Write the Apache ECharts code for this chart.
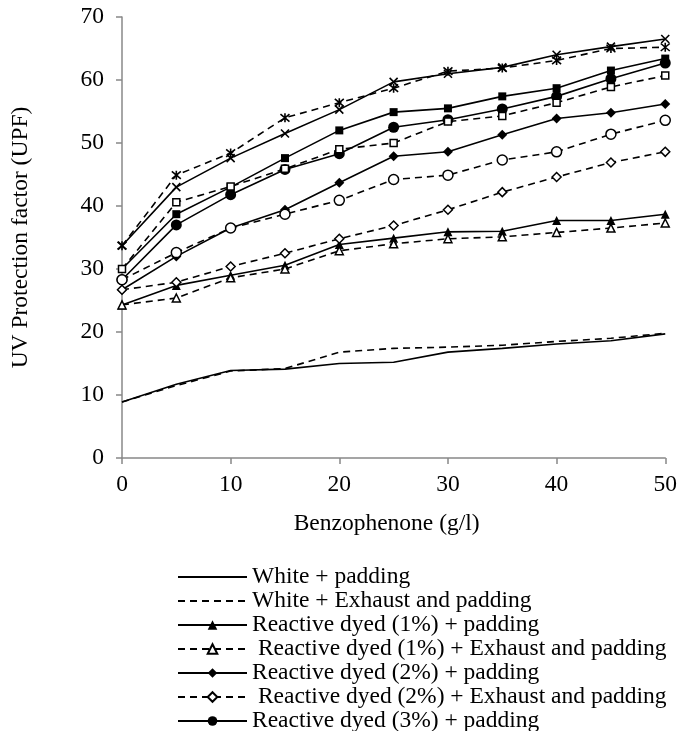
<!DOCTYPE html>
<html>
<head>
<meta charset="utf-8">
<script src="https://cdn.jsdelivr.net/npm/echarts@6/dist/echarts.min.js"></script>
<style>
html, body { margin: 0; padding: 0; background: #fff; }
#main { width: 680px; height: 731px; }
</style>
</head>
<body>
<div id="main"></div>
<script>
// benzophenone concentration (g/l)
var conc = [0, 5, 10, 15, 20, 25, 30, 35, 40, 45, 50];

var whitePad = [8.9, 11.7, 13.9, 14.1, 15.0, 15.2, 16.8, 17.4, 18.1, 18.6, 19.7];
var whiteExh = [8.9, 11.5, 13.8, 14.2, 16.8, 17.4, 17.6, 17.9, 18.5, 19.0, 19.8];
var r1Pad = [24.3, 27.4, 29.0, 30.6, 33.9, 34.9, 35.9, 36.0, 37.7, 37.7, 38.7];
var r1Exh = [24.3, 25.4, 28.6, 30.0, 32.9, 34.0, 34.8, 35.1, 35.8, 36.5, 37.3];
var r2Pad = [26.7, 32.0, 36.5, 39.4, 43.7, 47.9, 48.6, 51.3, 53.9, 54.8, 56.2];
var r2Exh = [26.7, 27.9, 30.4, 32.5, 34.8, 36.9, 39.4, 42.2, 44.6, 46.9, 48.6];
var r3Pad = [28.3, 37.0, 41.8, 45.8, 48.3, 52.5, 53.7, 55.4, 57.4, 60.2, 62.7];
var r3Exh = [28.3, 32.6, 36.5, 38.7, 40.9, 44.2, 44.9, 47.3, 48.6, 51.4, 53.6];
var r4Pad = [30.0, 38.7, 43.0, 47.6, 52.0, 54.9, 55.5, 57.4, 58.7, 61.5, 63.4];
var r4Exh = [30.0, 40.6, 43.1, 45.9, 49.0, 50.0, 53.4, 54.3, 56.4, 58.9, 60.7];
var r5Pad = [33.7, 43.0, 47.6, 51.5, 55.3, 59.7, 61.0, 62.0, 64.0, 65.3, 66.5];
var r5Exh = [33.7, 44.9, 48.4, 54.0, 56.4, 58.7, 61.4, 61.9, 63.1, 65.0, 65.2];

var names = [
	'White + padding',
	'White + Exhaust and padding',
	'Reactive dyed (1%) + padding',
	' Reactive dyed (1%) + Exhaust and padding',
	'Reactive dyed (2%) + padding',
	' Reactive dyed (2%) + Exhaust and padding',
	'Reactive dyed (3%) + padding',
	' Reactive dyed (3%) + Exhaust and padding',
	'Reactive dyed (4%) + padding',
	' Reactive dyed (4%) + Exhaust and padding',
	'Reactive dyed (5%) + padding',
	' Reactive dyed (5%) + Exhaust and padding'
];

var FONT = 'Liberation Serif';
var symX = 'path://M0,0L10,10M10,0L0,10';
var symStar = 'path://M0,0L10,10M10,0L0,10M5,-1L5,11';

function pairs(vals) {
	var out = [];
	for (var i = 0; i < conc.length; i++) {
		out.push([conc[i], vals[i]]);
	}
	return out;
}

// dashed: exhaust series, symbol: marker name, hollow: white fill
function mk(name, vals, dashed, symbol, size, hollow) {
	return {
		name: name,
		type: 'line',
		data: pairs(vals),
		symbol: symbol,
		symbolSize: size,
		showSymbol: symbol !== 'none',
		lineStyle: { color: '#000', width: 1.6, type: dashed ? [7, 5] : 'solid' },
		itemStyle: {
			color: hollow ? '#fff' : '#000',
			borderColor: '#000',
			borderWidth: hollow ? 1.5 : (symbol.indexOf('path') === 0 ? 1.6 : 0)
		},
		animation: false
	};
}

var series = [
	mk(names[0], whitePad, false, 'none', 0, false),
	mk(names[1], whiteExh, true, 'none', 0, false),
	mk(names[2], r1Pad, false, 'triangle', 9, false),
	mk(names[3], r1Exh, true, 'triangle', 8, true),
	mk(names[4], r2Pad, false, 'diamond', 10, false),
	mk(names[5], r2Exh, true, 'diamond', 9, true),
	mk(names[6], r3Pad, false, 'circle', 11, false),
	mk(names[7], r3Exh, true, 'circle', 10, true),
	mk(names[8], r4Pad, false, 'rect', 8, false),
	mk(names[9], r4Exh, true, 'rect', 7, true),
	mk(names[10], r5Pad, false, symX, 8, false),
	mk(names[11], r5Exh, true, symStar, 9, false)
];

// only the first seven show in the legend; plain white lines get no marker
var legendData = [];
for (var i = 0; i < 7; i++) {
	if (i < 2) {
		legendData.push({ name: names[i], itemStyle: { color: 'rgba(0,0,0,0)', borderColor: 'rgba(0,0,0,0)', borderWidth: 0 } });
	} else {
		legendData.push({ name: names[i] });
	}
}

var chart = echarts.init(document.getElementById('main'));
chart.setOption({
	backgroundColor: '#fff',
	animation: false,
	textStyle: { fontFamily: FONT, color: '#000' },
	grid: { left: 122, right: 13, top: 17, bottom: 273, containLabel: false },
	xAxis: {
		type: 'value',
		min: 0,
		max: 50,
		interval: 10,
		name: 'Benzophenone (g/l)',
		nameLocation: 'middle',
		nameGap: 54,
		nameTextStyle: { fontFamily: FONT, fontSize: 23.5, color: '#000', padding: [0, 14, 0, 0] },
		axisLine: { lineStyle: { color: '#888', width: 1.5 } },
		axisTick: { show: true, length: 6, lineStyle: { color: '#888', width: 1.5 } },
		axisLabel: { fontFamily: FONT, fontSize: 23.5, color: '#000', margin: 15 },
		splitLine: { show: false }
	},
	yAxis: {
		type: 'value',
		min: 0,
		max: 70,
		interval: 10,
		name: 'UV Protection factor (UPF)',
		nameLocation: 'middle',
		nameGap: 89,
		nameTextStyle: { fontFamily: FONT, fontSize: 23.5, color: '#000' },
		axisLine: { show: true, lineStyle: { color: '#888', width: 1.5 } },
		axisTick: { show: true, length: 6, lineStyle: { color: '#888', width: 1.5 } },
		axisLabel: { fontFamily: FONT, fontSize: 23.5, color: '#000', margin: 18 },
		splitLine: { show: false }
	},
	legend: {
		data: legendData,
		orient: 'vertical',
		left: 177,
		top: 565,
		padding: 0,
		height: 400,
		itemWidth: 69,
		itemHeight: 12,
		itemGap: 0,
		textStyle: { fontFamily: FONT, fontSize: 23.5, color: '#000', lineHeight: 23.6 }
	},
	series: series
});
</script>
</body>
</html>
